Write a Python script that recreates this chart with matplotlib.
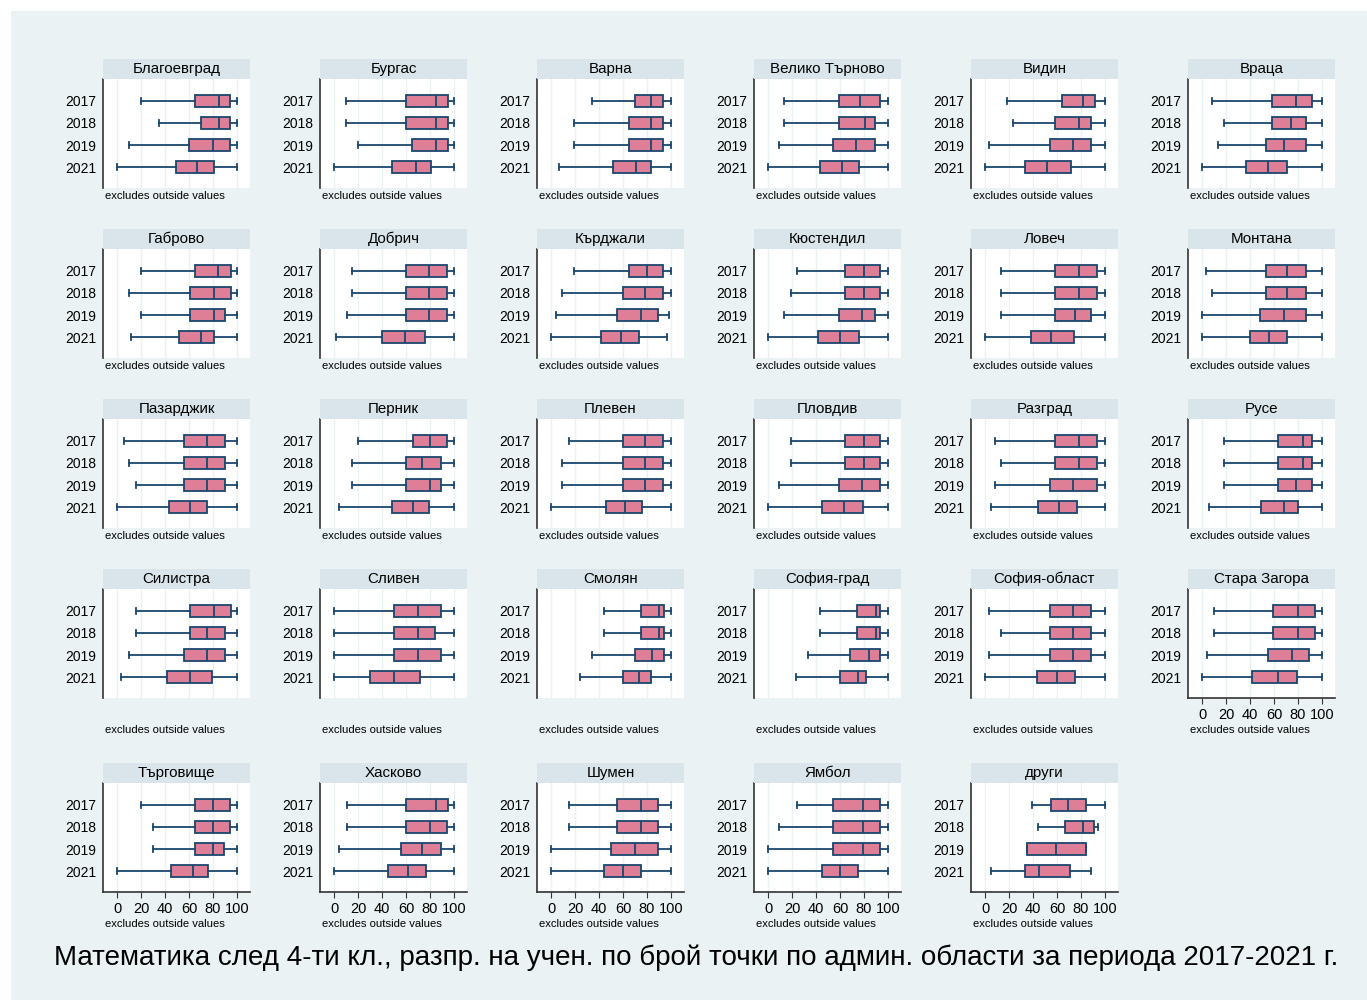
import matplotlib
matplotlib.use("Agg")
import matplotlib.pyplot as plt
from matplotlib.patches import Rectangle

plt.rcParams['font.family'] = ['Liberation Sans', 'DejaVu Sans']

regions = ["Благоевград", "Бургас", "Варна", "Велико Търново", "Видин", "Враца",
           "Габрово", "Добрич", "Кърджали", "Кюстендил", "Ловеч", "Монтана",
           "Пазарджик", "Перник", "Плевен", "Пловдив", "Разград", "Русе",
           "Силистра", "Сливен", "Смолян", "София-град", "София-област", "Стара Загора",
           "Търговище", "Хасково", "Шумен", "Ямбол", "други"]
years = ["2017", "2018", "2019", "2021"]
x_ticks = [0, 20, 40, 60, 80, 100]

whisker_low = [
    [20, 35, 10, 0], [10, 10, 20, 0], [34, 19, 19, 7], [13, 13, 9, 0], [18, 23, 3, 0], [8, 18, 13, 0],
    [20, 10, 20, 12], [15, 15, 11, 2], [19, 9, 4, 0], [24, 19, 13, 0], [13, 13, 13, 0], [3, 8, 0, 0],
    [6, 10, 16, 0], [20, 15, 15, 4], [15, 9, 9, 0], [19, 19, 9, 0], [8, 13, 8, 5], [18, 18, 18, 6],
    [16, 16, 10, 3], [0, 0, 0, 0], [44, 44, 34, 24], [43, 43, 33, 23], [3, 13, 3, 0], [10, 10, 4, 0],
    [20, 30, 30, 0], [11, 11, 4, 0], [15, 15, 0, 0], [24, 9, 0, 0], [39, 44, 35, 5]]
q1 = [
    [65, 70, 60, 49], [60, 60, 65, 48], [70, 65, 65, 52], [59, 59, 54, 43], [64, 58, 54, 33], [58, 58, 53, 37],
    [65, 61, 61, 52], [60, 60, 60, 40], [65, 60, 55, 42], [64, 64, 59, 42], [58, 58, 58, 38], [53, 53, 48, 40],
    [56, 56, 56, 43], [66, 60, 60, 48], [60, 60, 60, 46], [64, 64, 59, 45], [58, 58, 54, 44], [63, 63, 63, 49],
    [61, 61, 56, 42], [50, 50, 50, 30], [75, 75, 70, 60], [74, 74, 68, 60], [54, 54, 54, 43], [59, 59, 55, 42],
    [65, 65, 65, 45], [60, 60, 56, 45], [55, 55, 50, 44], [54, 54, 54, 45], [55, 67, 35, 33]]
median = [
    [85, 85, 80, 67], [85, 85, 85, 68], [83, 83, 83, 71], [77, 81, 73, 62], [82, 78, 73, 52], [78, 74, 68, 55],
    [84, 81, 81, 70], [79, 79, 79, 59], [80, 78, 75, 58], [80, 80, 78, 60], [78, 78, 75, 55], [71, 71, 68, 56],
    [75, 75, 75, 61], [80, 73, 80, 66], [78, 78, 78, 62], [80, 80, 78, 63], [78, 78, 73, 62], [84, 84, 78, 68],
    [81, 75, 75, 61], [70, 70, 70, 50], [90, 90, 84, 73], [90, 90, 84, 75], [73, 73, 73, 60], [80, 80, 75, 63],
    [80, 80, 80, 63], [85, 80, 73, 62], [75, 75, 70, 60], [79, 79, 79, 60], [69, 82, 59, 45]]
q3 = [
    [94, 94, 94, 81], [95, 95, 95, 81], [93, 93, 93, 83], [93, 89, 89, 76], [92, 88, 88, 72], [92, 87, 87, 71],
    [95, 95, 90, 81], [94, 94, 94, 76], [93, 93, 89, 73], [93, 93, 89, 76], [93, 93, 88, 74], [87, 87, 87, 71],
    [90, 90, 90, 75], [94, 89, 89, 79], [93, 93, 93, 76], [93, 93, 93, 79], [93, 93, 93, 77], [92, 92, 92, 80],
    [95, 90, 90, 79], [89, 84, 89, 72], [94, 94, 94, 83], [93, 93, 93, 82], [88, 88, 88, 75], [94, 94, 89, 79],
    [94, 94, 89, 76], [95, 94, 89, 77], [89, 89, 89, 75], [93, 93, 93, 75], [84, 91, 84, 71]]
whisker_high = [
    [100, 100, 100, 100], [100, 100, 100, 100], [100, 100, 100, 100], [100, 100, 100, 100], [100, 100, 100, 100], [100, 100, 100, 100],
    [100, 100, 100, 100], [100, 100, 100, 100], [100, 100, 98, 97], [100, 100, 100, 100], [100, 100, 100, 100], [100, 100, 100, 100],
    [100, 100, 100, 100], [100, 100, 100, 100], [100, 100, 100, 100], [100, 100, 100, 100], [100, 100, 100, 100], [100, 100, 100, 100],
    [100, 100, 100, 100], [100, 100, 100, 100], [100, 100, 100, 100], [100, 100, 100, 100], [100, 100, 100, 100], [100, 100, 100, 100],
    [100, 100, 100, 100], [100, 100, 100, 100], [100, 100, 100, 100], [100, 100, 100, 100], [100, 94, 84, 88]]

note_text = "excludes outside values"
caption = "Математика след 4-ти кл., разпр. на учен. по брой точки по админ. области за периода 2017-2021 г."

W, H = 1367, 1000
BG = '#eaf2f3'
STRIP = '#d9e5eb'
NAVY = '#1a476f'
PINK = '#de7f97'

fig = plt.figure(figsize=(W / 100, H / 100), dpi=100, facecolor='white')
fig.patches.append(Rectangle((11 / W, 0), (W - 11) / W, (H - 11) / H,
                             transform=fig.transFigure, facecolor=BG, edgecolor='none', zorder=-10))

def fx(px):
    return px / W

def fy(py):
    return 1 - py / H

row_tops = [79, 249, 419, 589, 783]
plot_h = 109
panel_w = 147

for i, name in enumerate(regions):
    r, c = divmod(i, 6)
    left = 103 + 217 * c
    top = row_tops[r]
    bottom = top + plot_h
    ax = fig.add_axes([fx(left), fy(bottom), fx(panel_w), plot_h / H])
    ax.set_facecolor('white')
    stats = []
    for k in range(4):
        stats.append(dict(whislo=whisker_low[i][k], q1=q1[i][k], med=median[i][k],
                          q3=q3[i][k], whishi=whisker_high[i][k], fliers=[]))
    ax.bxp(stats, positions=[1, 2, 3, 4], widths=0.53, orientation='horizontal',
           patch_artist=True, showfliers=False, capwidths=0.28,
           boxprops=dict(facecolor=PINK, edgecolor=NAVY, linewidth=1.3),
           medianprops=dict(color=NAVY, linewidth=1.3),
           whiskerprops=dict(color=NAVY, linewidth=1.3),
           capprops=dict(color=NAVY, linewidth=1.3))
    ax.set_xlim(-11.7, 110.8)
    ax.set_ylim(4.93, 0.02)
    ax.set_yticks([1, 2, 3, 4])
    ax.set_yticklabels(years, fontsize=10)
    ax.tick_params(axis='y', length=0, pad=5)
    ax.set_xticks(x_ticks)
    ax.grid(axis='x', color=BG, linewidth=1)
    ax.set_axisbelow(True)
    for s in ['top', 'right']:
        ax.spines[s].set_visible(False)
    ax.spines['left'].set_color('#333333')
    ax.spines['left'].set_linewidth(1.2)
    has_x = (r == 4) or (i == 23)
    if has_x:
        ax.tick_params(axis='x', labelsize=10.5, length=4, color='#333333', pad=3)
        ax.spines['bottom'].set_color('#333333')
        ax.spines['bottom'].set_linewidth(1.2)
    else:
        ax.spines['bottom'].set_visible(False)
        ax.tick_params(axis='x', length=0, labelbottom=False)
    # strip title
    fig.patches.append(Rectangle((fx(left), fy(top)), fx(panel_w), 20 / H,
                                 transform=fig.transFigure, facecolor=STRIP, edgecolor='none'))
    fig.text(fx(left + panel_w / 2), fy(top - 10), name, ha='center', va='center', fontsize=10.9)
    # note
    if r < 3:
        ny = bottom + 8
    else:
        ny = bottom + 32
    fig.text(fx(left + 2), fy(ny), note_text, ha='left', va='center', fontsize=8.1)

fig.text(fx(696), fy(958), caption, ha='center', va='center', fontsize=20)

fig.savefig('out.png', dpi=100, facecolor='white')
